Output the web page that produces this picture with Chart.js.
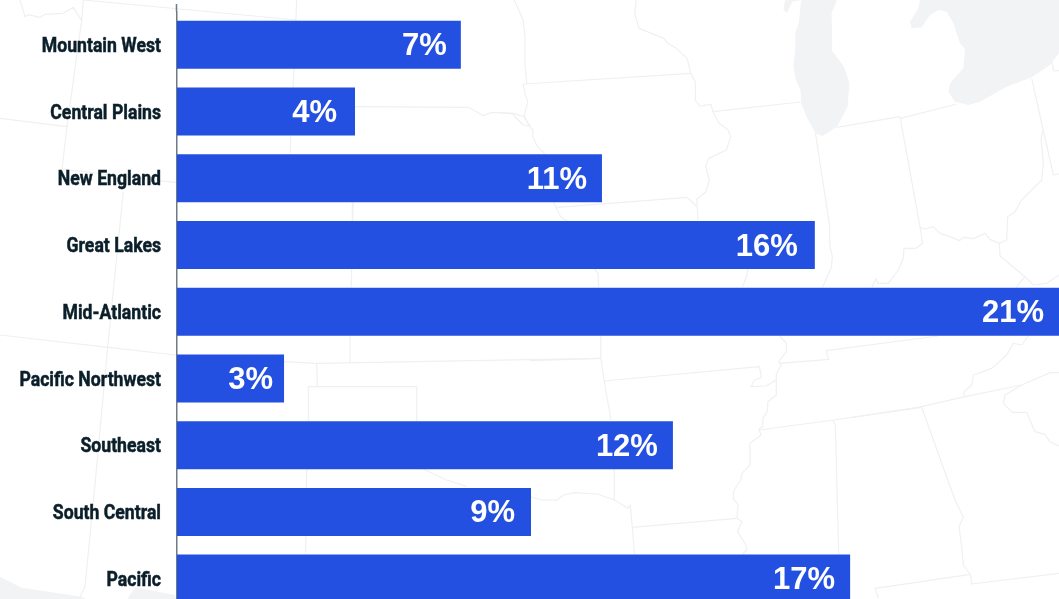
<!DOCTYPE html>
<html>
<head>
<meta charset="utf-8">
<title>Regions</title>
<script src="https://cdn.jsdelivr.net/npm/chart.js@4"></script>
<style>
    html, body { margin: 0; padding: 0; width: 1059px; height: 599px; overflow: hidden; background: #fff; }
    canvas { display: block; }
</style>
</head>
<body>
<canvas id="chart-regions" width="1059" height="612"></canvas>
<script>
// Chart data
const regions = ['Mountain West', 'Central Plains', 'New England', 'Great Lakes', 'Mid-Atlantic', 'Pacific Northwest', 'Southeast', 'South Central', 'Pacific'];
const barLengths = [7.08, 4.44, 10.6, 15.91, 22, 2.67, 12.37, 8.83, 16.79];
const shareLabels = ['7%', '4%', '11%', '16%', '21%', '3%', '12%', '9%', '17%'];

// Gap between the percent text and the bar end, it varies a little in the original
const labelInsets = [14, 18, 15, 17, 15, 11, 15, 16, 15];

// Map backdrop, traced per crop: [left, top, xScale, yScale]
const crops = {
    a: [0, 0, 3, 3],
    b: [500, 0, 2.805, 3],
    c: [0, 300, 2.958, 3],
    d: [530, 300, 2.964, 3],
    e: [880, 0, 3, 3],
    f: [280, 330, 3, 3],
    g: [340, 0, 3, 3],
    h: [850, 330, 3, 3],
    i: [0, 500, 3, 3]
};

const lakes = [
    ['b', [845,0, 838,70, 828,100, 828,150, 823,200, 830,240, 843,270, 845,310, 860,350, 885,400, 905,408, 945,380, 975,320, 980,250, 965,200, 930,150, 932,130, 930,40, 945,0]],
    ['b', [800,0, 795,30, 805,38, 820,5, 845,0]],
    ['e', [120,0, 115,25, 90,65, 95,85, 125,82, 150,45, 175,30, 200,35, 220,70, 240,130, 255,148, 250,205, 210,250, 205,275, 225,305, 265,315, 300,305, 380,260, 455,232, 510,195, 537,160, 537,0]],
    ['i', [0,230, 65,263, 245,290, 265,300, 0,300]],
    ['i', [380,300, 405,262, 525,285, 530,300]]
];

const borders = [
    ['a', [60,0, 75,50, 85,44, 120,52, 135,43, 190,40, 220,22, 245,62]],
    ['a', [250,0, 890,60]],
    ['a', [250,0, 245,62, 201,380, 186,507, 530,548]],
    ['a', [0,355, 201,380]],
    ['a', [890,0, 880,250, 870,460]],
    ['a', [370,575, 325,1020, 290,1400, 255,1760, 240,1790]],
    ['a', [1060,600, 1058,660]],
    ['c', [0,105, 320,142, 520,165]],
    ['g', [45,320, 385,322, 430,347, 455,337, 520,340, 552,350, 570,378]],
    ['g', [37,605, 37,662]],
    ['g', [35,807, 34,862]],
    ['f', [210,18, 210,97]],
    ['f', [10,95, 110,100, 960,85]],
    ['f', [110,100, 112,170]],
    ['f', [85,272, 85,170, 410,170, 410,272]],
    ['f', [80,417, 77,670]],
    ['f', [430,417, 500,450, 560,470]],
    ['b', [40,0, 65,60, 70,110, 70,190, 75,250]],
    ['b', [65,252, 535,220]],
    ['b', [65,252, 70,280, 78,305, 68,345, 80,375, 92,390, 92,410, 105,440, 125,460]],
    ['b', [0,338, 35,342, 65,375, 80,378]],
    ['b', [382,0, 378,40, 390,85, 460,115, 470,130, 495,145, 525,175, 535,220, 548,245, 548,300, 560,318, 592,313, 597,335, 615,370, 640,390, 647,410, 635,450, 585,475, 577,500, 587,540, 578,575, 552,598, 555,660]],
    ['b', [597,335, 843,306]],
    ['b', [160,622, 525,592, 550,618]],
    ['b', [150,606, 170,650, 190,665]],
    ['b', [265,807, 275,820, 277,862]],
    ['b', [695,807, 693,825, 680,862]],
    ['b', [885,400, 925,680, 925,735, 932,770, 930,800, 905,862]],
    ['b', [945,382, 1122,350]],
    ['b', [1090,850, 1060,850, 1055,835, 1043,862]],
    ['e', [62,355, 230,312]],
    ['e', [60,350, 120,680, 128,730, 108,745, 72,745, 70,775, 55,810, 25,850, 0,850]],
    ['e', [120,682, 135,687, 160,680, 180,700, 215,712, 238,722, 250,712, 280,716, 315,700, 330,718, 358,730, 380,720, 383,650, 405,635, 425,600, 485,540, 490,490, 483,415, 490,390]],
    ['e', [455,235, 520,525, 537,522]],
    ['e', [358,730, 360,768, 435,830, 460,855, 500,850, 537,825]],
    ['e', [435,830, 408,862]],
    ['e', [515,185, 522,213, 537,212]],
    ['d', [210,108, 210,175, 220,243, 240,360]],
    ['d', [0,182, 210,175]],
    ['d', [220,243, 680,200, 686,232, 665,240, 655,260, 700,258, 730,240, 730,285, 705,305, 703,335, 690,355, 690,380, 678,388, 685,405, 652,430, 652,495, 628,520, 625,540, 605,570, 602,595, 617,615, 613,655, 628,665, 615,695, 640,735, 643,750, 630,762]],
    ['d', [740,108, 760,130, 760,155, 737,185, 745,195, 730,222, 730,240]],
    ['d', [740,190, 885,178, 878,152, 1210,108]],
    ['d', [680,390, 900,360, 1160,322]],
    ['d', [250,507, 250,600, 290,625, 297,615, 303,680, 310,762]],
    ['d', [303,682, 613,655]],
    ['d', [0,590, 35,600, 80,600, 100,585, 130,578, 200,582, 250,600]],
    ['d', [897,360, 905,375, 915,762]],
    ['h', [0,263, 205,232, 345,200, 515,165, 600,128, 627,128]],
    ['h', [215,232, 315,510, 340,562, 327,590, 335,650, 340,705, 362,735, 365,762, 627,730]],
    ['h', [362,733, 75,775, 85,805]],
    ['h', [345,200, 340,187, 365,165, 370,135, 425,115, 470,75, 490,40, 515,45, 535,18]],
    ['h', [515,165, 465,195, 460,220, 487,247, 530,247, 555,305, 585,313, 600,335, 627,348]]
];

function tracePath(ctx, crop, pts) {
    const [left, top, sx, sy] = crops[crop];
    ctx.beginPath();
    for (let i = 0; i < pts.length; i += 2) {
        ctx.lineTo(left + pts[i] / sx, top + pts[i + 1] / sy);
    }
}

// Map goes behind everything
const mapBackdrop = {
    id: 'mapBackdrop',
    beforeDraw(chart) {
        const ctx = chart.ctx;
        ctx.save();
        ctx.fillStyle = '#f2f3f5';
        ctx.strokeStyle = '#f0f0f1';
        ctx.lineWidth = 1.2;
        ctx.lineJoin = 'round';
        lakes.forEach(([crop, pts]) => {
            tracePath(ctx, crop, pts);
            ctx.closePath();
            ctx.fill();
        });
        borders.forEach(([crop, pts]) => {
            tracePath(ctx, crop, pts);
            ctx.stroke();
        });
        ctx.restore();
    }
};

// Percent text inside each bar, condensed region names, and the axis stub above the first band
const barText = {
    id: 'barText',
    afterDatasetsDraw(chart) {
        const ctx = chart.ctx;
        const area = chart.chartArea;
        const yScale = chart.scales.y;
        ctx.save();
        ctx.strokeStyle = '#6f7a84';
        ctx.lineWidth = 1.5;
        ctx.beginPath();
        ctx.moveTo(area.left - 0.5, 4);
        ctx.lineTo(area.left - 0.5, area.top);
        ctx.stroke();

        ctx.font = 'bold 31px "Liberation Sans", sans-serif';
        ctx.fillStyle = '#ffffff';
        ctx.textAlign = 'right';
        ctx.textBaseline = 'middle';
        chart.getDatasetMeta(0).data.forEach((bar, i) => {
            ctx.fillText(shareLabels[i], bar.x - labelInsets[i], bar.y + 2);
        });

        // no condensed family installed, so squeeze a bold face horizontally
        ctx.font = 'bold 21px Roboto, sans-serif';
        ctx.fillStyle = '#0b1f2a';
        ctx.strokeStyle = '#0b1f2a';
        ctx.lineWidth = 0.5;
        regions.forEach((name, i) => {
            ctx.save();
            ctx.translate(161, yScale.getPixelForTick(i) + 2);
            ctx.scale(0.84, 1);
            ctx.fillText(name, 0, 0);
            ctx.strokeText(name, 0, 0);
            ctx.restore();
        });
        ctx.restore();
    }
};

new Chart(document.getElementById('chart-regions').getContext('2d'), {
    type: 'bar',
    data: {
        labels: regions,
        datasets: [{
            data: barLengths,
            backgroundColor: '#2350e0',
            borderWidth: 0,
            barPercentage: 0.72,
            categoryPercentage: 1
        }]
    },
    options: {
        indexAxis: 'y',
        responsive: false,
        animation: false,
        layout: { padding: { top: 11.4, right: 0, bottom: 0, left: 0 } },
        plugins: {
            legend: { display: false },
            title: { display: false },
            tooltip: { enabled: false }
        },
        scales: {
            x: { display: false, min: 0, max: 22 },
            y: {
                afterFit(scale) {
                    scale.width = 177;
                    scale.paddingTop = 0;
                    scale.paddingBottom = 0;
                },
                grid: { display: false, drawTicks: false },
                border: { display: true, color: '#6f7a84', width: 1.5 },
                ticks: { display: false }
            }
        }
    },
    plugins: [mapBackdrop, barText]
});
</script>
</body>
</html>
